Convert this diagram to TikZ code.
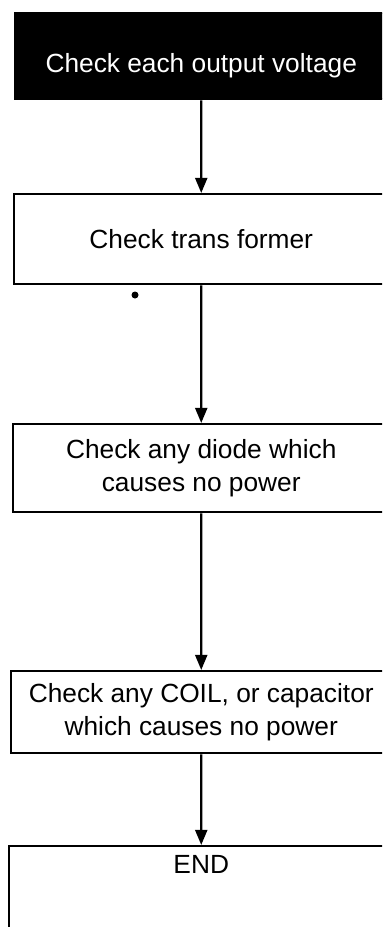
\documentclass[tikz,border=0pt]{standalone}
\usepackage{fontspec}
\setmainfont{Liberation Sans}
\usetikzlibrary{arrows.meta}
\tikzset{
	stepbox/.style={draw, line width=1.7pt, anchor=north west, align=center, inner sep=0pt,
		font=\fontsize{18.7}{24}\selectfont},
	flowarrow/.style={line width=1.7pt, -{Triangle[length=3.8mm, width=3mm]}},
}

\begin{document}
\begin{tikzpicture}[x=0.025cm, y=-0.025cm]
		%%%%% START %%%%%
		
		\useasboundingbox (0, 0) rectangle (382, 927);
		\clip (0, 0) rectangle (382, 927);
		
		\node[stepbox, fill=black, text=white, minimum width=9.3cm, minimum height=2.15cm, text height=27pt] (output) at (14, 12) {Check each output voltage};
		\node[stepbox, minimum width=9.35cm, minimum height=2.25cm] (trans) at (13, 193) {Check trans former};
		\node[stepbox, minimum width=9.4cm, minimum height=2.2cm] (diode) at (12, 423) {Check any diode which\\causes no power};
		\node[stepbox, minimum width=9.5cm, minimum height=2.05cm] (coil) at (10, 670) {Check any COIL, or capacitor\\which causes no power};
		\node[stepbox, minimum width=9.6cm, inner ysep=6.5pt, text depth=3cm] (end) at (8, 845) {END};
		
		\draw[flowarrow] (output) -- (trans);
		\draw[flowarrow] (trans) -- (diode);
		\draw[flowarrow] (diode) -- (coil);
		\draw[flowarrow] (coil) -- (end);
		
		\fill (135, 295) circle (3.5);
		
		%%%%% END %%%%%
	\end{tikzpicture}
\end{document}
